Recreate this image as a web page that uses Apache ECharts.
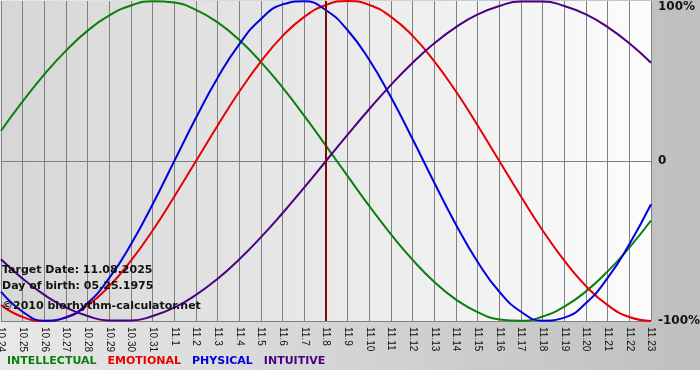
<!DOCTYPE html>
<html>
<head>
<meta charset="utf-8">
<script src="https://cdn.jsdelivr.net/npm/echarts@6/dist/echarts.min.js"></script>
<style>
html,body{margin:0;padding:0;background:#ffffff;}
#chart{width:700px;height:370px;}
</style>
</head>
<body>
<div id="chart"></div>
<script>
const dates = ['10.24','10.25','10.26','10.27','10.28','10.29','10.30','10.31','11.1','11.2','11.3','11.4','11.5','11.6','11.7','11.8','11.9','11.10','11.11','11.12','11.13','11.14','11.15','11.16','11.17','11.18','11.19','11.20','11.21','11.22','11.23'];
const intellectual = [0.189,0.372,0.541,0.690,0.815,0.910,0.972,0.999,0.990,0.945,0.866,0.756,0.618,0.458,0.282,0.095,-0.095,-0.282,-0.458,-0.618,-0.756,-0.866,-0.945,-0.990,-0.999,-0.972,-0.910,-0.815,-0.690,-0.541,-0.372];
const emotional = [-0.901,-0.975,-1.000,-0.975,-0.901,-0.782,-0.623,-0.434,-0.222,0.000,0.222,0.434,0.623,0.782,0.901,0.975,1.000,0.975,0.901,0.782,0.623,0.434,0.222,0.000,-0.222,-0.434,-0.623,-0.782,-0.901,-0.975,-1.000];
const physical = [-0.817,-0.942,-0.998,-0.979,-0.888,-0.731,-0.520,-0.270,0.000,0.270,0.520,0.731,0.888,0.979,0.998,0.942,0.817,0.631,0.398,0.136,-0.136,-0.398,-0.631,-0.817,-0.942,-0.998,-0.979,-0.888,-0.731,-0.520,-0.270];
const intuitive = [-0.614,-0.736,-0.837,-0.916,-0.969,-0.997,-0.997,-0.969,-0.916,-0.837,-0.736,-0.614,-0.476,-0.325,-0.165,0.000,0.165,0.325,0.476,0.614,0.736,0.837,0.916,0.969,0.997,0.997,0.969,0.916,0.837,0.736,0.614];
const targetDate = '11.8';
const seriesNames = ['INTELLECTUAL','EMOTIONAL','PHYSICAL','INTUITIVE'];
const seriesColors = ['#0a800a','#e80000','#0000e0','#4b0082'];
const infoLines = ['Target Date: 11.08.2025','Day of birth: 05.25.1975','\u00a92010 biorhythm-calculator.net'];

const chart = echarts.init(document.getElementById('chart'), null, {renderer:'canvas'});
const boldFont = 'DejaVu Sans, Verdana, sans-serif';
const dataSets = [intellectual, emotional, physical, intuitive];

const series = seriesNames.map((name, k) => {
  const s = {
    name: name,
    type: 'line',
    data: dataSets[k],
    smooth: true,
    symbol: 'none',
    lineStyle: {color: seriesColors[k], width: 2},
    itemStyle: {color: seriesColors[k]},
    z: 3
  };
  if (k === 3) {
    s.markLine = {
      silent: true,
      symbol: ['none','none'],
      label: {show: false},
      lineStyle: {color: '#7a0c0c', width: 2, type: 'solid'},
      data: [{xAxis: targetDate}],
      z: 5
    };
  }
  return s;
});

const option = {
  animation: false,
  backgroundColor: {
    type: 'linear', x: 0, y: 0, x2: 1, y2: 0,
    colorStops: [{offset: 0, color: '#e8e8e8'}, {offset: 1, color: '#bfbfbf'}]
  },
  title: infoLines.map((t, i) => ({
    text: t,
    left: 2,
    top: [265, 281, 301][i],
    padding: 0,
    textStyle: {fontFamily: boldFont, fontSize: 11, fontWeight: 'bold', color: '#111111'}
  })),
  legend: {
    left: 2,
    top: 356,
    padding: 0,
    icon: 'rect',
    itemWidth: 0,
    itemHeight: 0,
    itemGap: 6,
    selectedMode: false,
    data: seriesNames.map((n, k) => ({name: n, textStyle: {color: seriesColors[k]}})),
    textStyle: {fontFamily: boldFont, fontSize: 11, fontWeight: 'bold'}
  },
  grid: {
    left: 1, right: 49, top: 1, bottom: 49,
    containLabel: false,
    outerBoundsMode: 'none',
    show: true,
    borderWidth: 0,
    backgroundColor: {
      type: 'linear', x: 0, y: 0, x2: 1, y2: 0,
      colorStops: [{offset: 0, color: '#d6d6d6'}, {offset: 1, color: '#fcfcfc'}]
    }
  },
  xAxis: {
    type: 'category',
    data: dates,
    boundaryGap: false,
    axisLine: {lineStyle: {color: '#808080', width: 1}},
    axisTick: {show: true, length: 5, interval: 0, lineStyle: {color: '#808080'}},
    splitLine: {show: true, interval: 0, lineStyle: {color: '#808080', width: 1}},
    axisLabel: {
      interval: 0,
      rotate: -90,
      margin: 6,
      hideOverlap: false,
      overflow: 'none',
      fontFamily: 'Liberation Sans Narrow, Arial Narrow, Liberation Sans, sans-serif',
      fontSize: 10,
      color: '#111111'
    }
  },
  yAxis: {
    type: 'value',
    position: 'right',
    min: -1,
    max: 1,
    interval: 1,
    axisLine: {show: false},
    axisTick: {show: false},
    splitLine: {show: true, lineStyle: {color: ['#808080', '#808080', 'rgba(0,0,0,0)'], width: 1}},
    axisLabel: {
      margin: 7,
      formatter: function (v) {
        if (v === 1) return '{a|100%}';
        if (v === 0) return '{b|0}';
        if (v === -1) return '{b|-100%}';
        return '';
      },
      rich: {
        a: {fontFamily: boldFont, fontSize: 12, fontWeight: 'bold', color: '#111111', padding: [12, 0, 0, 0]},
        b: {fontFamily: boldFont, fontSize: 12, fontWeight: 'bold', color: '#111111'}
      }
    }
  },
  series: series
};
chart.setOption(option);
</script>
</body>
</html>
